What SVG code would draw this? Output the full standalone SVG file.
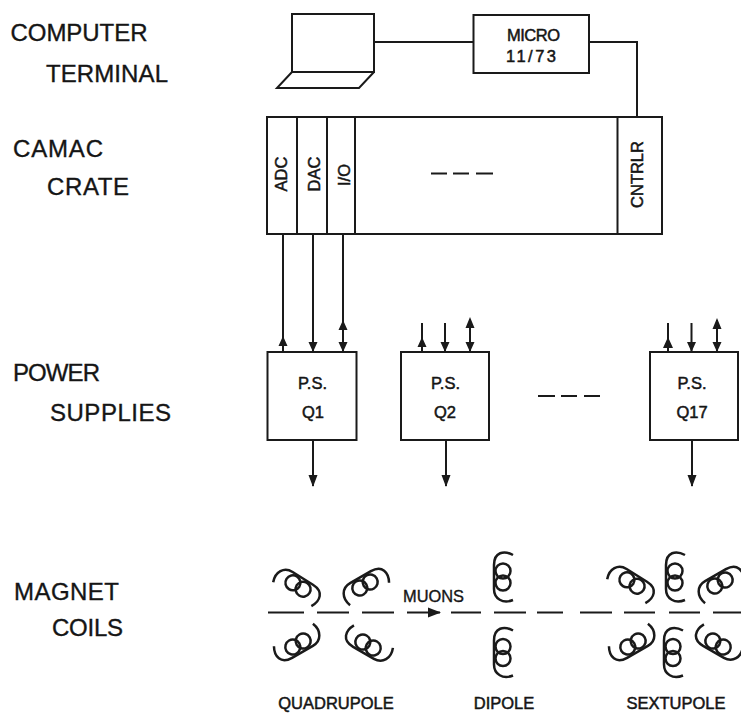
<svg xmlns="http://www.w3.org/2000/svg" width="741" height="713" viewBox="0 0 741 713">
<style>
text{font-family:"Liberation Sans",Arial,sans-serif;fill:#151515;stroke:#151515;stroke-width:.35}
.lab{font-size:24px}
.in{font-size:16.500px;text-anchor:middle;stroke-width:.5}
.cap{font-size:16.500px;text-anchor:middle;stroke-width:.5}
.box{fill:#fff;stroke:#1a1a1a;stroke-width:2}
.ln{fill:none;stroke:#1a1a1a;stroke-width:2}
.coil{fill:none;stroke:#1a1a1a;stroke-width:2.500}
</style>
<defs>
<g id="coil" class="coil">
<ellipse cx="0" cy="-6" rx="7.500" ry="7.500"/>
<ellipse cx="0" cy="6" rx="7.500" ry="7.500"/>
<path d="M10-22C1-27-9-25-9-12V12C-9 22 0 27 10 23"/>
</g>
</defs>
<g id="labels">
<text class="lab" x="10.500" y="41" textLength="137">COMPUTER</text>
<text class="lab" x="46" y="82" textLength="122">TERMINAL</text>
<text class="lab" x="13" y="157" textLength="90">CAMAC</text>
<text class="lab" x="47" y="195" textLength="82">CRATE</text>
<text class="lab" x="13" y="381" textLength="87">POWER</text>
<text class="lab" x="50" y="421" textLength="121">SUPPLIES</text>
<text class="lab" x="14" y="600" textLength="105">MAGNET</text>
<text class="lab" x="52" y="636" textLength="71">COILS</text>
<text class="cap" x="336" y="709">QUADRUPOLE</text>
<text class="cap" x="504" y="709">DIPOLE</text>
<text class="cap" x="676" y="709">SEXTUPOLE</text>
</g>
<g id="connectors">
<path class="ln" d="M374 42H473"/>
<path class="ln" d="M589 42H637V117"/>
<path class="ln" d="M283 235V352M313 235V352M343 235V352"/>
<path class="ln" d="M422 323V352M445 323V352M470 320V352M668 323V352M691.500 323V352M717 320V352"/>
<path class="ln" d="M313 440V486M446 440V486M692 440V486"/>
<path d="M283 336l-4.500 10h9zM422 337l-4.500 10h9zM668 337l-5 11h10zM343 320l-4.500 10h9zM470 317l-4.500 11h9zM717 318l-4.500 11h9z" fill="#1a1a1a"/>
<path d="M313 352l-4.500-10h9zM343 352l-4.500-10h9zM445 352l-4.500-10h9zM470 352l-4.500-10h9zM691.500 352l-4.500-10h9zM717 352l-4.500-10h9zM313 487l-4.500-12h9zM446 487l-4.500-12h9zM692 487l-4.500-12h9z" fill="#1a1a1a"/>
</g>
<g id="terminal">
<path class="box" d="M292 14H374V72H292z"/>
<path class="ln" d="M292 72L277 88H359L374 72"/>
</g>
<g id="micro">
<rect class="box" x="473.500" y="15" width="115.500" height="58"/>
<text class="in" x="533.500" y="41" textLength="53">MICRO</text>
<text class="in" x="531" y="62" textLength="50">11/73</text>
</g>
<g id="crate">
<rect class="box" x="267" y="117" width="395" height="117"/>
<path class="ln" d="M297 117V234M327 117V234M355 117V234M617.500 117V234"/>
<text class="in" transform="translate(287 174) rotate(-90)">ADC</text>
<text class="in" transform="translate(319.500 174) rotate(-90)">DAC</text>
<text class="in" transform="translate(349.500 175) rotate(-90)">I/O</text>
<text class="in" transform="translate(643 174.500) rotate(-90)">CNTRLR</text>
<path class="ln" d="M431 173.500H447M453 173.500H469M476 173.500H493"/>
</g>
<g id="ps-q1">
<rect class="box" x="267.500" y="352" width="89" height="88"/>
<text class="in" x="312.500" y="389">P.S.</text>
<text class="in" x="313" y="418">Q1</text>
</g>
<g id="ps-q2">
<rect class="box" x="401" y="352" width="88" height="88"/>
<text class="in" x="445.500" y="389">P.S.</text>
<text class="in" x="445" y="418">Q2</text>
</g>
<g id="ps-q17">
<rect class="box" x="650" y="352" width="88" height="88"/>
<text class="in" x="692" y="389">P.S.</text>
<text class="in" x="692" y="418">Q17</text>
</g>
<path class="ln" d="M538 396H555M561 396H577M584 396H600"/>
<g id="beam">
<path class="ln" d="M268 612.500H304M317 612.500H349M362 612.500H394M407 612.500H440M451 612.500H481M494 612.500H526M537 612.500H563M580 612.500H612M624 612.500H655M669 612.500H700M713 612.500H741"/>
<path d="M428 607.500L441 612.500L428 617.500z" fill="#1a1a1a"/>
<text x="403" y="602" font-size="16.400" stroke-width=".5">MUONS</text>
</g>
<g id="quadrupole">
<use href="#coil" transform="translate(298 586) rotate(122)"/>
<use href="#coil" transform="translate(365 585) rotate(60)"/>
<use href="#coil" transform="translate(298 644) rotate(-120)"/>
<use href="#coil" transform="translate(368 645) rotate(-60)"/>
</g>
<g id="dipole">
<use href="#coil" transform="translate(503 577)"/>
<use href="#coil" transform="translate(503 652.500)"/>
</g>
<g id="sextupole">
<use href="#coil" transform="translate(632 583) rotate(122)"/>
<use href="#coil" transform="translate(675 577)"/>
<use href="#coil" transform="translate(720 583) rotate(60)"/>
<use href="#coil" transform="translate(633 644) rotate(-120)"/>
<use href="#coil" transform="translate(673 652.500)"/>
<use href="#coil" transform="translate(718 644) rotate(-60)"/>
</g>
</svg>
